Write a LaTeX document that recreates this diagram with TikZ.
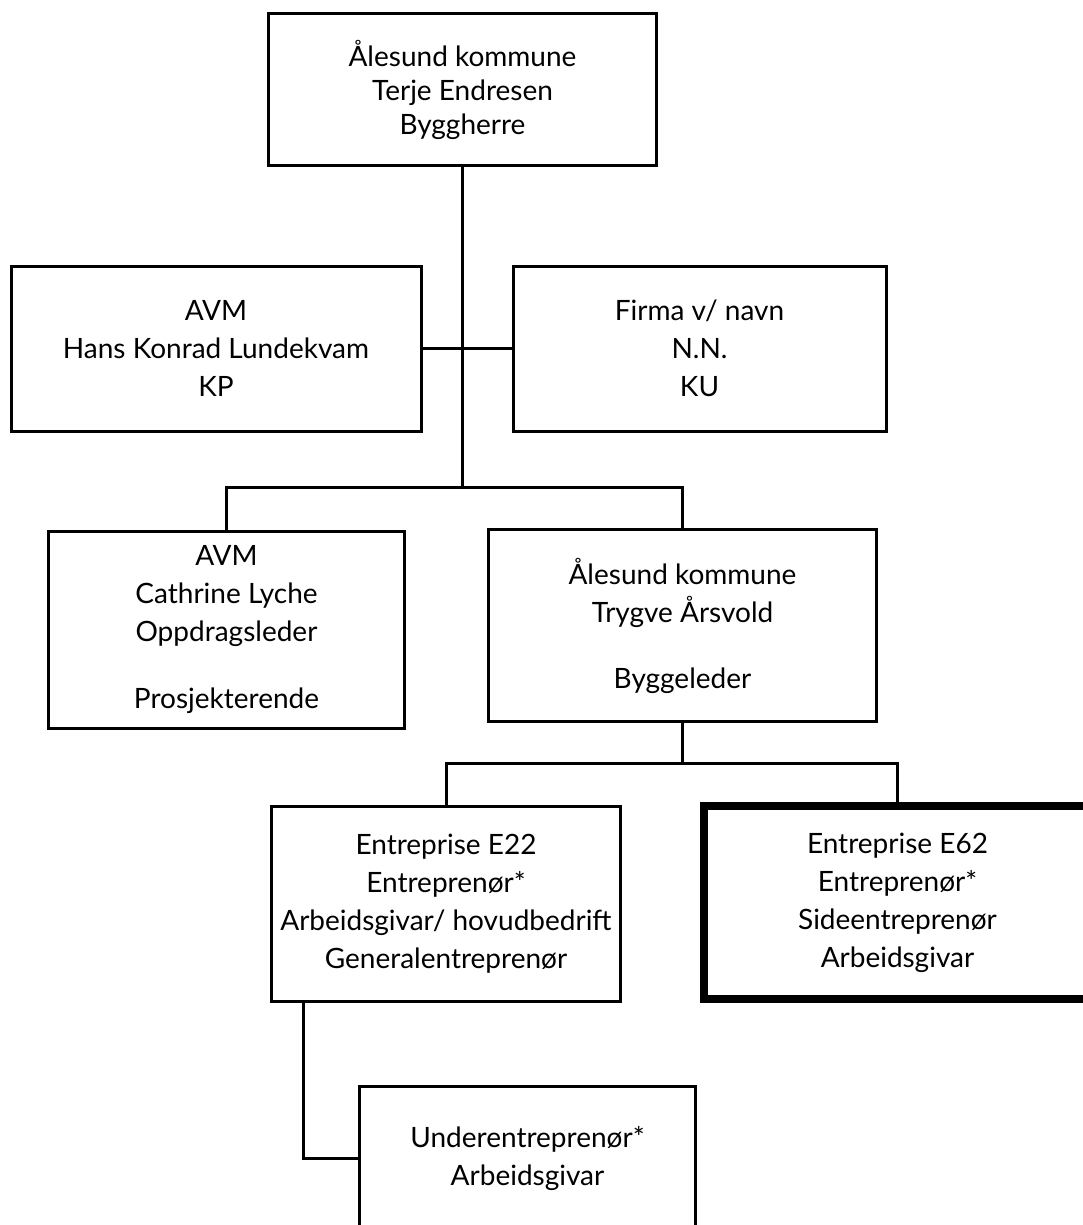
\documentclass[tikz,border=0pt]{standalone}
\usepackage{fontspec}
\setmainfont{Lato}
\usepackage{tikz}
\tikzset{
  box/.style={draw, line width=3pt, align=center, inner sep=0pt, font=\fontsize{28}{38}\selectfont},
  boldbox/.style={box, line width=8pt},
  link/.style={line width=3pt}
}
\begin{document}
\begin{tikzpicture}[x=1pt,y=-1pt]
\useasboundingbox (0,0) rectangle (1083,1225);
\clip (0,0) rectangle (1083,1225);
% byggherre
\node[box, minimum width=388pt, minimum height=152pt, font=\fontsize{28}{34}\selectfont] (byggherre) at (462.5,89.5) {Ålesund kommune\\Terje Endresen\\Byggherre};
% KP and KU
\node[box, minimum width=410pt, minimum height=165pt] (kp) at (216,348.5) {AVM\\Hans Konrad Lundekvam\\KP};
\node[box, minimum width=373pt, minimum height=165pt] (ku) at (699.5,348.5) {Firma v/ navn\\N.N.\\KU};
% prosjekterende and byggeleder
\node[box, minimum width=356pt, minimum height=197pt] (prosj) at (226.5,630) {AVM\\Cathrine Lyche\\Oppdragsleder\\[29pt]Prosjekterende};
\node[box, minimum width=388pt, minimum height=192pt] (byggeleder) at (682.5,625.5) {Ålesund kommune\\Trygve Årsvold\\[28pt]Byggeleder};
% entreprises
\node[box, minimum width=349pt, minimum height=195pt] (e22) at (446,904) {Entreprise E22\\Entreprenør*\\Arbeidsgivar/ hovudbedrift\\Generalentreprenør};
\node[boldbox, minimum width=387pt, minimum height=193pt] (e62) at (897.5,902.5) {Entreprise E62\\Entreprenør*\\Sideentreprenør\\Arbeidsgivar};
\node[box, minimum width=336pt, minimum height=143pt] (ue) at (527.5,1158) {Underentreprenør*\\Arbeidsgivar};

\coordinate (split) at (462.5,487);
\coordinate (split2) at (682.5,763);
\draw[link] (byggherre.south) -- (split);
\draw[link] (kp.east) -- (ku.west);
\draw[link] (prosj.north) |- (split) -| (byggeleder.north);
\draw[link] (byggeleder.south) -- (split2);
\draw[link] (e22.north) |- (split2) -| (e62.north);
\draw[link] (e22.south west) ++(33.5,0) |- (ue.west);
\end{tikzpicture}
\end{document}
